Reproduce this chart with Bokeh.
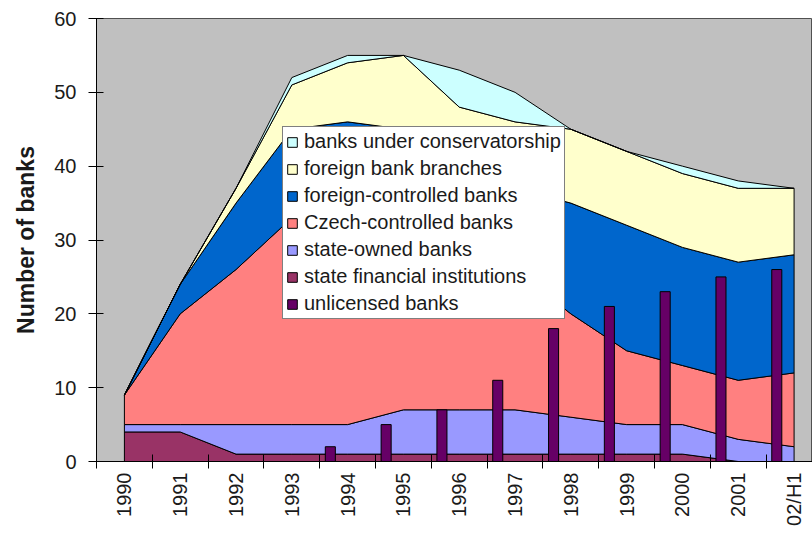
import numpy as np
from bokeh.plotting import figure
from bokeh.models import FixedTicker, Range1d, Legend, LegendItem
from bokeh.embed import file_html
from bokeh.resources import INLINE

years = ["1990", "1991", "1992", "1993", "1994", "1995", "1996", "1997",
         "1998", "1999", "2000", "2001", "02/H1"]
state_fin = [4, 4, 1, 1, 1, 1, 1, 1, 1, 1, 1, 0, 0]
state_owned = [1, 1, 4, 4, 4, 6, 6, 6, 5, 4, 4, 3, 2]
czech = [4, 15, 21, 28, 29, 26, 23, 19, 14, 10, 8, 8, 10]
foreign_ctrl = [0, 4, 9, 12, 12, 12, 9, 11, 15, 17, 16, 16, 16]
foreign_branch = [0, 0, 2, 6, 8, 10, 9, 9, 10, 10, 10, 10, 9]
conservatorship = [0, 0, 0, 1, 1, 0, 5, 4, 0, 0, 1, 1, 0]
unlicensed = [0, 0, 0, 0, 2, 5, 7, 11, 18, 21, 23, 25, 26]

layers = [
    ("state financial institutions", state_fin, "#993366"),
    ("state-owned banks", state_owned, "#9999FF"),
    ("Czech-controlled banks", czech, "#FF8080"),
    ("foreign-controlled banks", foreign_ctrl, "#0066CC"),
    ("foreign bank branches", foreign_branch, "#FFFFCC"),
    ("banks under conservatorship", conservatorship, "#CCFFFF"),
]

FONT = "Liberation Sans"
TXT = "#1a1a1a"

p = figure(width=812, height=544, x_range=Range1d(-0.5, 12.33), y_range=Range1d(0, 60),
           output_backend="svg", toolbar_location=None,
           min_border_left=96, min_border_right=0, min_border_top=18, min_border_bottom=83)
p.background_fill_color = "#C0C0C0"
p.border_fill_color = "white"
p.outline_line_color = "#505050"
p.xgrid.grid_line_color = None
p.ygrid.grid_line_color = None

idx = np.arange(len(years))
lower = np.zeros(len(years))
renderers = {}
for name, vals, color in layers:
    v = np.array(vals, dtype=float)
    upper = lower + v
    xs = np.concatenate([idx, idx[::-1]])
    ys = np.concatenate([upper, lower[::-1]])
    r = p.patch(x=xs, y=ys, fill_color=color, line_color="black", line_width=1)
    renderers[name] = r
    lower = upper

u = np.array(unlicensed, dtype=float)
mask = u > 0
rb = p.vbar(x=idx[mask] - 0.31, top=u[mask], bottom=0, width=0.18,
            fill_color="#660066", line_color="black", line_width=1)
renderers["unlicensed banks"] = rb

order = ["banks under conservatorship", "foreign bank branches", "foreign-controlled banks",
         "Czech-controlled banks", "state-owned banks", "state financial institutions",
         "unlicensed banks"]
legend = Legend(items=[LegendItem(label=n, renderers=[renderers[n]]) for n in order],
                location=(186, 142))
legend.border_line_color = "black"
legend.border_line_width = 1
legend.background_fill_color = "white"
legend.background_fill_alpha = 1
legend.label_text_font = FONT
legend.label_text_font_size = "20px"
legend.label_text_color = TXT
legend.glyph_width = 12
legend.glyph_height = 12
legend.label_standoff = 6
legend.padding = 3
legend.spacing = 4
legend.label_height = 20
legend.margin = 0
p.add_layout(legend)

# y axis
ya = p.yaxis[0]
ya.ticker = FixedTicker(ticks=[0, 10, 20, 30, 40, 50, 60])
ya.major_tick_in = 7
ya.major_tick_out = 8
ya.minor_tick_line_color = None
ya.axis_line_color = "black"
ya.major_tick_line_color = "black"
ya.major_label_text_font = FONT
ya.major_label_text_font_size = "20px"
ya.major_label_text_color = TXT
ya.major_label_standoff = 12
ya.axis_label = "Number of banks"
ya.axis_label_text_font = FONT
ya.axis_label_text_font_style = "bold"
ya.axis_label_text_font_size = "23px"
ya.axis_label_text_color = TXT
ya.axis_label_standoff = 12

# x axis
xa = p.xaxis[0]
xa.ticker = FixedTicker(ticks=list(range(len(years))),
                        minor_ticks=[i - 0.5 for i in range(len(years) + 1)])
xa.major_label_overrides = {i: y for i, y in enumerate(years)}
xa.major_label_orientation = np.pi / 2
xa.major_tick_line_color = None
xa.major_tick_in = 0
xa.major_tick_out = 7
xa.minor_tick_line_color = "black"
xa.minor_tick_in = 7
xa.minor_tick_out = 7
xa.axis_line_color = "black"
xa.major_label_text_font = FONT
xa.major_label_text_font_size = "20px"
xa.major_label_text_color = TXT
xa.major_label_standoff = 4

open("out.html", "w").write(file_html(p, INLINE))
